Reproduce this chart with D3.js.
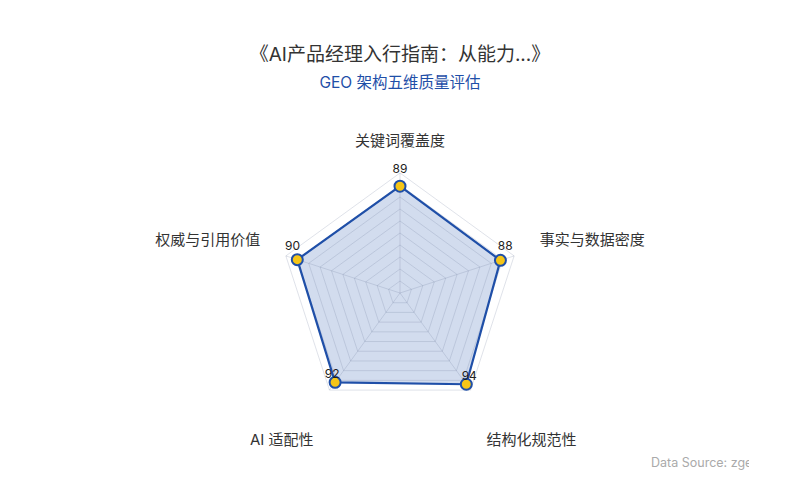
<!DOCTYPE html>
<html><head><meta charset="utf-8">
<script src="https://cdn.jsdelivr.net/npm/d3@7/dist/d3.min.js"></script>
<style>
html,body{margin:0;padding:0;background:#fff;}
svg{display:block;font-family:Inter,"Noto Sans CJK SC","Noto Sans",sans-serif;}
</style></head>
<body><svg id="c" width="800" height="500"></svg>
<script>
const titleText = "《AI产品经理入行指南：从能力...》";
const subtitleText = "GEO 架构五维质量评估";
const sourceText = "Data Source: zgeo.ai";
const indicators = ["关键词覆盖度", "事实与数据密度", "结构化规范性", "AI 适配性", "权威与引用价值"];
const maxValues = [100, 100, 100, 100, 100];
const values = [89, 88, 94, 92, 90];
const ringLevels = d3.range(1, 11);

const svg = d3.select("#c");
const cx = 400, cy = 293, R = 120;
const n = indicators.length;
const angle = i => -Math.PI / 2 + i * 2 * Math.PI / n;
const rScale = d3.scaleLinear().domain([0, 100]).range([0, R]);
const pt = (i, v) => [cx + rScale(v) * Math.cos(angle(i)), cy + rScale(v) * Math.sin(angle(i))];

// title
svg.append("text").attr("x", 400).attr("y", 54).attr("text-anchor", "middle")
  .attr("dominant-baseline", "central").attr("font-size", 19).attr("fill", "#333").text(titleText);
svg.append("text").attr("x", 400).attr("y", 82).attr("text-anchor", "middle")
  .attr("dominant-baseline", "central").attr("font-size", 15.5).attr("fill", "#1f4fa8").text(subtitleText);

const line = d3.line();
const g = svg.append("g");
const dataPts = values.map((v, i) => pt(i, v));
g.append("path").attr("d", line(dataPts) + "Z").attr("fill", "rgba(31,79,168,0.2)").attr("stroke", "none");
ringLevels.forEach(l => {
  const pts = indicators.map((_, i) => pt(i, l * 10));
  g.append("path").attr("d", line(pts) + "Z").attr("fill", "none")
    .attr("stroke", "rgba(110,125,155,0.22)").attr("stroke-width", 1);
});
indicators.forEach((_, i) => {
  const [x, y] = pt(i, 100);
  g.append("line").attr("x1", cx).attr("y1", cy).attr("x2", x).attr("y2", y)
    .attr("stroke", "rgba(110,125,155,0.22)").attr("stroke-width", 1);
});
g.append("path").attr("d", line(dataPts) + "Z").attr("fill", "none")
  .attr("stroke", "#1f4fa8").attr("stroke-width", 2.2).attr("stroke-linejoin", "round");
dataPts.forEach(([x, y]) => {
  g.append("circle").attr("cx", x).attr("cy", y).attr("r", 5.5)
    .attr("fill", "#f5c518").attr("stroke", "#1f4fa8").attr("stroke-width", 2);
});
values.forEach((v, i) => {
  const [x, y] = pt(i, v);
  const a = angle(i);
  svg.append("text").attr("x", x + 5 * Math.cos(a)).attr("y", y + 5 * Math.sin(a) - 13)
    .attr("text-anchor", "middle").attr("dominant-baseline", "central")
    .attr("font-size", 12).attr("fill", "#222").text(v);
});
indicators.forEach((name, i) => {
  const a = angle(i);
  const c = Math.cos(a), s = Math.sin(a);
  const rn = R + 27;
  let x = cx + rn * c, y = cy + rn * s;
  let anchor = Math.abs(c) < 0.1 ? "middle" : (c > 0 ? "start" : "end");
  if (s > 0.5) y += 28; else y -= 8;
  if (Math.abs(c) < 0.1) y = cy + (R + 33) * s;
  svg.append("text").attr("x", x).attr("y", y).attr("text-anchor", anchor)
    .attr("dominant-baseline", "central").attr("font-size", 15).attr("fill", "#333").text(name);
});
svg.append("clipPath").attr("id", "clip").append("rect").attr("x", 0).attr("y", 0).attr("width", 749).attr("height", 500);
svg.append("text").attr("x", 651).attr("y", 462).attr("dominant-baseline", "central")
  .attr("clip-path", "url(#clip)").attr("font-size", 12.5).attr("fill", "#aaa").text(sourceText);
</script></body></html>
